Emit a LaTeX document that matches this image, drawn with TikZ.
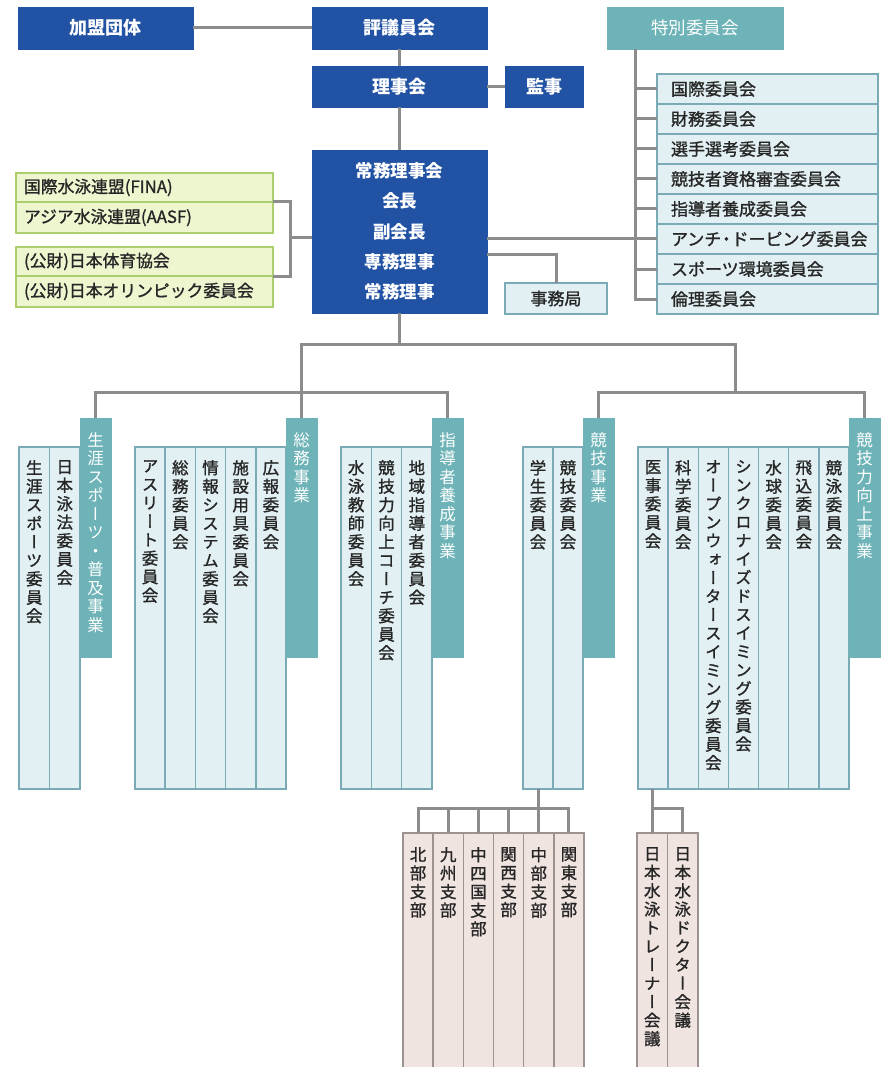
\documentclass[tikz,border=0pt]{standalone}
\usepackage{fontspec}
\setmainfont{Noto Sans CJK JP}
\newfontfamily\jpm[FakeBold=1.2]{Noto Sans CJK JP}
\newfontfamily\vjp[RawFeature=+vert, FakeBold=1.2]{Noto Sans CJK JP}
\newfontfamily\vjw[RawFeature=+vert]{Noto Sans CJK JP}
\definecolor{jblue}{HTML}{2152A3}
\definecolor{jteal}{HTML}{6DB3B7}
\definecolor{lbfill}{HTML}{E2F0F3}
\definecolor{lbdraw}{HTML}{7AAAB6}
\definecolor{gfill}{HTML}{EEF6D0}
\definecolor{gdraw}{HTML}{AACF6C}
\definecolor{pfill}{HTML}{EFE4E0}
\definecolor{pdraw}{HTML}{9C9290}
\definecolor{lgray}{HTML}{8C8C8C}
\definecolor{txt}{HTML}{262626}
\ExplSyntaxOn
\NewDocumentCommand \vtext { m }
  {
    \vbox
      {
        \baselineskip=18.5pt \relax
        \lineskiplimit=-\maxdimen \relax
        \exp_args:No \tl_map_inline:nn {#1} { \hbox_to_wd:nn {1em} { \hss ##1 \hss } }
      }
  }
\ExplSyntaxOff
\tikzset{
  conn/.style={draw=lgray, line width=3pt},
  bluebox/.style={fill=jblue, draw=jblue, text=white, font=\bfseries\fontsize{18}{20}\selectfont,
    minimum height=42pt, inner sep=0pt, outer sep=0pt, anchor=north west},
  tealbox/.style={fill=jteal, draw=jteal, text=white, font=\fontsize{17.5}{20}\selectfont,
    minimum height=42pt, inner sep=0pt, outer sep=0pt, anchor=north west},
  listbox/.style={fill=lbfill, draw=lbdraw, line width=1.5pt, text=txt, font=\jpm\fontsize{17}{19}\selectfont,
    minimum height=30pt, text width=193pt, inner xsep=14pt, inner ysep=0pt, outer sep=0pt, align=left, anchor=north west},
  jimubox/.style={fill=lbfill, draw=lbdraw, line width=1.5pt, text=txt, font=\jpm\fontsize{17}{19}\selectfont,
    minimum height=31pt, minimum width=102pt, inner sep=0pt, outer sep=0pt, anchor=north west},
  greenbox/.style={fill=gfill, draw=gdraw, line width=1.5pt, text=txt, font=\jpm\fontsize{16.8}{19}\selectfont,
    text width=241pt, inner xsep=8pt, inner ysep=0pt, outer sep=0pt, align=left, anchor=north west},
  colbox/.style={fill=lbfill, draw=lbdraw, line width=1.5pt, minimum height=342pt, inner sep=0pt, outer sep=0pt, anchor=north west},
  pinkbox/.style={fill=pfill, draw=pdraw, line width=1.5pt, minimum height=260pt, inner sep=0pt, outer sep=0pt, anchor=north west},
  headbox/.style={fill=jteal, draw=jteal, minimum width=31pt, minimum height=239pt, inner sep=0pt, outer sep=0pt, anchor=north west},
  vt/.style={text=txt, font=\vjp\fontsize{16.5}{18.5}\selectfont, inner sep=0pt, anchor=north},
  vth/.style={text=white, font=\vjw\fontsize{16.5}{18.5}\selectfont, inner sep=0pt, anchor=north}
}
\begin{document}
\begin{tikzpicture}[x=1pt,y=-1pt]
\useasboundingbox (0,0) rectangle (884,1067);
\fill[white] (0,0) rectangle (884,1067);
\clip (0,0) rectangle (884,1067);

% ---- top ----
\node[bluebox, minimum width=175pt] (kamei) at (18,7) {加盟団体};
\node[bluebox, minimum width=175pt] (hyogi) at (312,7) {評議員会};
\node[bluebox, minimum width=175pt, minimum height=41pt] (riji) at (312,66) {理事会};
\node[bluebox, minimum width=78pt, minimum height=41pt] (kanji) at (505,66) {監事};
\node[tealbox, minimum width=176pt] (toku) at (607,7) {特別委員会};
\node[bluebox, minimum width=175pt, minimum height=163pt, align=center,
      font=\bfseries\fontsize{17.5}{30.2}\selectfont] (joumu) at (312,150)
      {常務理事会\\会長\\副会長\\専務理事\\常務理事};

% ---- green ----
\node[greenbox, minimum height=29pt] (fina) at (16,173) {国際水泳連盟(FINA)};
\node[greenbox, minimum height=31pt] (aasf) at (16,202) {アジア水泳連盟(AASF)};
\node[greenbox, minimum height=29pt] (taiiku) at (16,247) {(公財)日本体育協会};
\node[greenbox, minimum height=31pt] (olymp) at (16,276) {(公財)日本オリンピック委員会};

% ---- jimukyoku ----
\node[jimubox] (jimu) at (505,283) {事務局};

% ---- special committees ----
\foreach \t [count=\i] in {国際委員会,財務委員会,選手選考委員会,競技者資格審査委員会,指導者養成委員会,アンチ\kern-.2em・\kern-.2emドーピング委員会,スポーツ環境委員会,倫理委員会}
  \node[listbox] (r\i) at (657,{74+30*(\i-1)}) {\t};

% ---- committee columns ----
\foreach \t [count=\i from 0] in {生涯スポーツ委員会,日本泳法委員会}{
  \node[colbox, minimum width=30.5pt] (cA\i) at ({19+30.5*\i},447) {};
  \node[vt] (tA\i) at ({19+30.5*\i+15.25},460) {\vtext{\t}};
}
\foreach \t [count=\i from 0] in {アスリート委員会,総務委員会,情報システム委員会,施設用具委員会,広報委員会}{
  \node[colbox, minimum width=30.2pt] (cB\i) at ({135+30.2*\i},447) {};
  \node[vt] (tB\i) at ({135+30.2*\i+15.1},460) {\vtext{\t}};
}
\foreach \t [count=\i from 0] in {水泳教師委員会,競技力向上コーチ委員会,地域指導者委員会}{
  \node[colbox, minimum width=30.33pt] (cC\i) at ({341+30.33*\i},447) {};
  \node[vt] (tC\i) at ({341+30.33*\i+15.17},460) {\vtext{\t}};
}
\foreach \t [count=\i from 0] in {学生委員会,競技委員会}{
  \node[colbox, minimum width=30pt] (cD\i) at ({523+30*\i},447) {};
  \node[vt] (tD\i) at ({523+30*\i+15},460) {\vtext{\t}};
}
\foreach \t [count=\i from 0] in {医事委員会,科学委員会,オープンウォータースイミング委員会,シンクロナイズドスイミング委員会,水球委員会,飛込委員会,競泳委員会}{
  \node[colbox, minimum width=30.14pt] (cE\i) at ({638+30.14*\i},447) {};
  \node[vt] (tE\i) at ({638+30.14*\i+15.07},460) {\vtext{\t}};
}

% ---- headers ----
\node[headbox] (h1) at (80,418) {};
\node[vth] (ht1) at (95.5,432) {\vtext{生涯スポーツ・普及事業}};
\node[headbox] (h2) at (286,418) {};
\node[vth] (ht2) at (301.5,432) {\vtext{総務事業}};
\node[headbox] (h3) at (432,418) {};
\node[vth] (ht3) at (447.5,432) {\vtext{指導者養成事業}};
\node[headbox] (h4) at (583,418) {};
\node[vth] (ht4) at (598.5,432) {\vtext{競技事業}};
\node[headbox] (h5) at (849,418) {};
\node[vth] (ht5) at (864.5,432) {\vtext{競技力向上事業}};

% ---- pink columns ----
\foreach \t [count=\i from 0] in {北部支部,九州支部,中四国支部,関西支部,中部支部,関東支部}{
  \node[pinkbox, minimum width=30.17pt] (pk\i) at ({403+30.17*\i},833) {};
  \node[vt] (pt\i) at ({403+30.17*\i+15.08},847) {\vtext{\t}};
}
\foreach \t [count=\i from 0] in {日本水泳トレーナー会議,日本水泳ドクター会議}{
  \node[pinkbox, minimum width=30.5pt] (pq\i) at ({637+30.5*\i},833) {};
  \node[vt] (qt\i) at ({637+30.5*\i+15.25},847) {\vtext{\t}};
}

% ---- connectors ----
\draw[conn] (kamei.east) -- (hyogi.west);
\draw[conn] (hyogi.south) -- (riji.north);
\draw[conn] (riji.east) -- (kanji.west);
\draw[conn] (riji.south) -- (joumu.north);

\coordinate (br) at (290,238);
\draw[conn] (fina.south east) -| (br) |- (olymp.north east);
\draw[conn] (br) -- (br -| joumu.west);

\coordinate (jm) at (487,254);
\draw[conn] (jm) -| (jimu.north);

\coordinate (tb) at (635,49);
\coordinate (jt) at (487,239);
\draw[conn] (toku.south -| tb) |- (r8.west);
\foreach \i in {1,...,7} \draw[conn] (r\i.west -| tb) -- (r\i.west);
\draw[conn] (jt) -- (jt -| tb);

\coordinate (busA) at (0,344);
\coordinate (busB) at (0,392);
\coordinate (rk) at (735,344);
\draw[conn] (joumu.south) -- (joumu.south |- busA);
\draw[conn] (h2.north) -- (h2.north |- busA) -| (rk |- busB);
\draw[conn] (h1.north) |- (h3.north |- busB) -- (h3.north);
\draw[conn] (h4.north) |- (h5.north |- busB) -- (h5.north);

\coordinate (busC) at (0,808);
\draw[conn] (pk4.north |- cD0.south) -- (pk4.north);
\draw[conn] (pk0.north) |- (pk5.north |- busC) -- (pk5.north);
\foreach \i in {1,2,3} \draw[conn] (pk\i.north) -- (pk\i.north |- busC);
\draw[conn] (pq0.north |- cE0.south) -- (pq0.north);
\draw[conn] (pq0.north |- busC) -| (pq1.north);
\end{tikzpicture}
\end{document}
